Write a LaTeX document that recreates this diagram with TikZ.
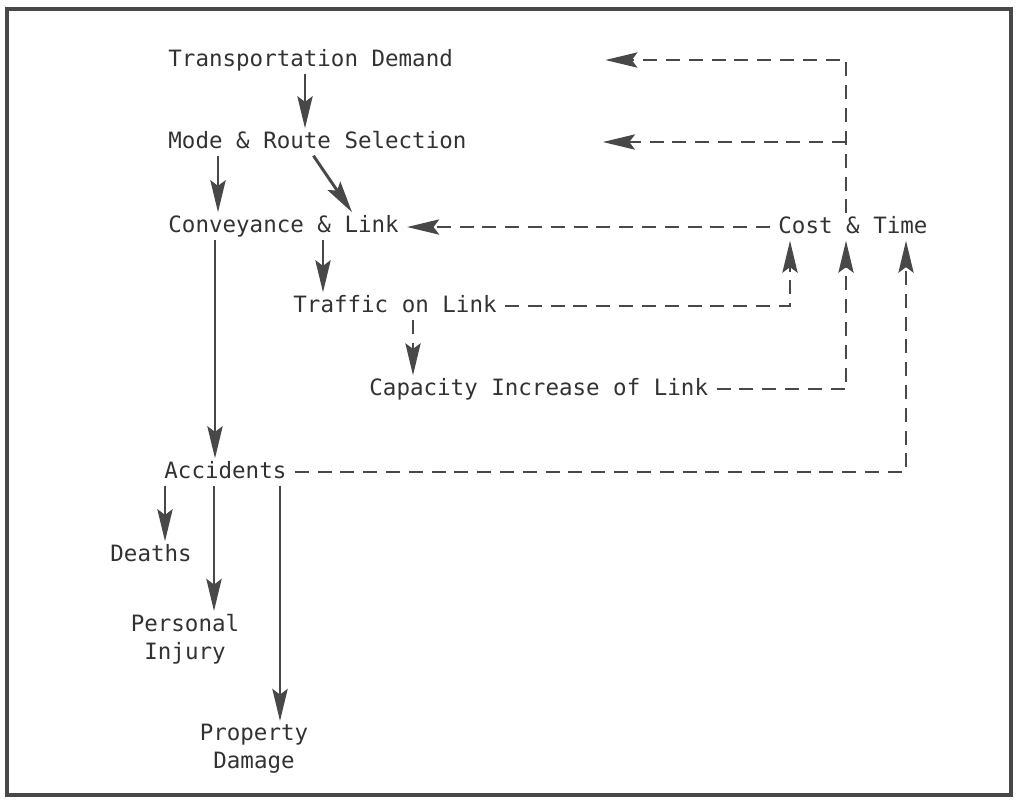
\documentclass[tikz,border=0pt]{standalone}
\usepackage{fontspec}
\setmonofont{DejaVu Sans Mono}
\usetikzlibrary{arrows.meta}
\definecolor{ink}{HTML}{484848}

\begin{document}
\begin{tikzpicture}[x=0.025cm, y=-0.025cm,
	txt/.style={inner sep=0pt, outer ysep=2pt, outer xsep=6pt, text=ink!70!black,
		font=\ttfamily\fontsize{16pt}{20pt}\selectfont},
	lbl/.style={txt, anchor=base west, text height=12pt, text depth=3.5pt},
	arr/.style={draw=ink, line width=2.1pt,
		-{Stealth[length=0.8cm, width=0.38cm, inset=0.14cm]}},
	darr/.style={arr, line width=1.7pt, dash pattern=on 0.35cm off 0.22cm}]
	\useasboundingbox (0,0) rectangle (1016,802);
	
	% Frame:
	\draw[ink, line width=2.2pt] (7,9) rectangle (1011,795);
	
	% Labels:
	\node[lbl] (td) at (160,66) {Transportation Demand};
	\node[lbl] (mrs) at (160,148) {Mode \& Route Selection};
	\node[lbl] (cl) at (160,232) {Conveyance \& Link};
	\node[lbl] (tl) at (285,312) {Traffic on Link};
	\node[lbl] (cil) at (361,395) {Capacity Increase of Link};
	\node[lbl] (ct) at (770,233) {Cost \& Time};
	\node[lbl] (acc) at (156,478) {Accidents};
	\node[lbl] (dth) at (102,561) {Deaths};
	\node[txt, anchor=north, align=center] (pi) at (185,611) {Personal\\Injury};
	\node[txt, anchor=north, align=center] (pd) at (254,721) {Property\\Damage};
	
	% Columns of the vertical arrows
	\coordinate (xa) at (218,0);
	\coordinate (xb) at (323,0);
	\coordinate (xc) at (413,0);
	\coordinate (xd) at (846,0);
	\coordinate (xe) at (906,0);
	\coordinate (xf) at (790,0);
	\coordinate (xg) at (215,0);
	\coordinate (xh) at (165,0);
	\coordinate (xi) at (214,0);
	\coordinate (xj) at (280,0);
	\coordinate (xk) at (305,0);
	
	% Solid arrows:
	\draw[arr] (td.south -| xk) -- (mrs.north -| xk);
	\draw[arr] (mrs.south -| xa) -- (cl.north -| xa);
	\draw[arr] ([xshift=-0.1cm]mrs.south) -- ([xshift=4.8cm]cl.north west);
	\draw[arr] (cl.south -| xb) -- (tl.north -| xb);
	\draw[darr] (tl.south -| xc) -- (cil.north -| xc);
	\draw[arr] (cl.south -| xg) -- (acc.north -| xg);
	\draw[arr] (acc.south -| xh) -- (dth.north -| xh);
	\draw[arr] (acc.south -| xi) -- (pi.north -| xi);
	\draw[arr] (acc.south -| xj) -- (pd.north -| xj);
	
	% Feedback from Cost & Time (dashed)
	\draw[darr] (ct.west) -- (cl.east |- ct.west);
	\draw[darr] (ct.north -| xd) |- ([xshift=3.6cm]td.east);
	\draw[darr] (mrs.east -| xd) -- ([xshift=3.2cm]mrs.east);
	
	% Dashed returns into Cost & Time
	\draw[darr] (tl.east) -| (ct.south -| xf);
	\draw[darr] (cil.east) -| (ct.south -| xd);
	\draw[darr] (acc.east) -| (ct.south -| xe);
\end{tikzpicture}
\end{document}
